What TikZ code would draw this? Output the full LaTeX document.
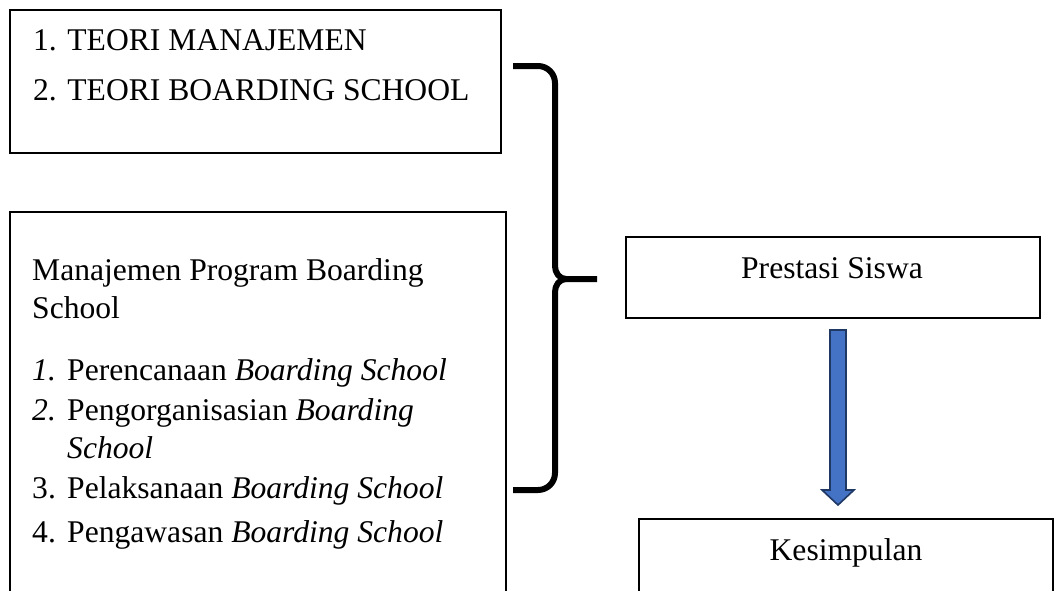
\documentclass[tikz,border=0pt]{standalone}
\usepackage{fontspec}
\setmainfont{Liberation Serif}
\begin{document}
\begin{tikzpicture}[x=1pt,y=-1pt,
  txt/.style={inner sep=0pt,anchor=base west,font=\fontsize{31.6}{38}\selectfont},
  ctxt/.style={inner sep=0pt,anchor=base,font=\fontsize{31.6}{38}\selectfont},
  frame/.style={draw=black,line width=1.3pt},
  bracep/.style={draw=black,line width=6pt,line join=round},
  fatarrow/.style={draw={rgb,255:red,31;green,56;blue,100},line width=1.6pt,fill={rgb,255:red,68;green,114;blue,196},line join=miter}]
\useasboundingbox (0,0) rectangle (1055,590);
\clip (0,0) rectangle (1055,590);
% boxes
\draw[frame] (10,10) rectangle (501,153);
\draw[frame] (10,212) rectangle (506,640);
\draw[frame] (626,237) rectangle (1040,318);
\draw[frame] (639,519) rectangle (1053,640);
% box 1 text
\node[txt] (t1) at (33,50) {1. TEORI MANAJEMEN};
\node[txt] (t2) at (33,100) {2. TEORI BOARDING SCHOOL};
% box 2 text
\node[txt] (m1) at (32,280) {Manajemen Program Boarding};
\node[txt] (m2) at (32,318) {School};
\node[txt] (n1) at (32,380) {\itshape 1.};
\node[txt] (i1) at (67,380) {Perencanaan \textit{Boarding School}};
\node[txt] (n2) at (32,420) {\itshape 2.};
\node[txt] (i2) at (67,420) {Pengorganisasian \textit{Boarding}};
\node[txt] (i2b) at (67,458) {\textit{School}};
\node[txt] (n3) at (32,498) {3.};
\node[txt] (i3) at (67,498) {Pelaksanaan \textit{Boarding School}};
\node[txt] (n4) at (32,542) {4.};
\node[txt] (i4) at (67,542) {Pengawasan \textit{Boarding School}};
% right boxes text
\node[ctxt] (ps) at (832,278) {Prestasi Siswa};
\node[ctxt] (ks) at (846,560) {Kesimpulan};
% brace
\draw[bracep] (513,66) -- (538,66) to[out=0,in=90] (555,83) -- (555,266)
  to[out=-90,in=180] (566,279) -- (597,279);
\draw[bracep] (566,279) to[out=180,in=90] (555,292) -- (555,473)
  to[out=-90,in=0] (538,490) -- (513,490);
% fat arrow
\draw[fatarrow] (830,330) -- (846,330) -- (846,490) -- (854,490) -- (838,505)
  -- (822,490) -- (830,490) -- cycle;
\end{tikzpicture}
\end{document}
